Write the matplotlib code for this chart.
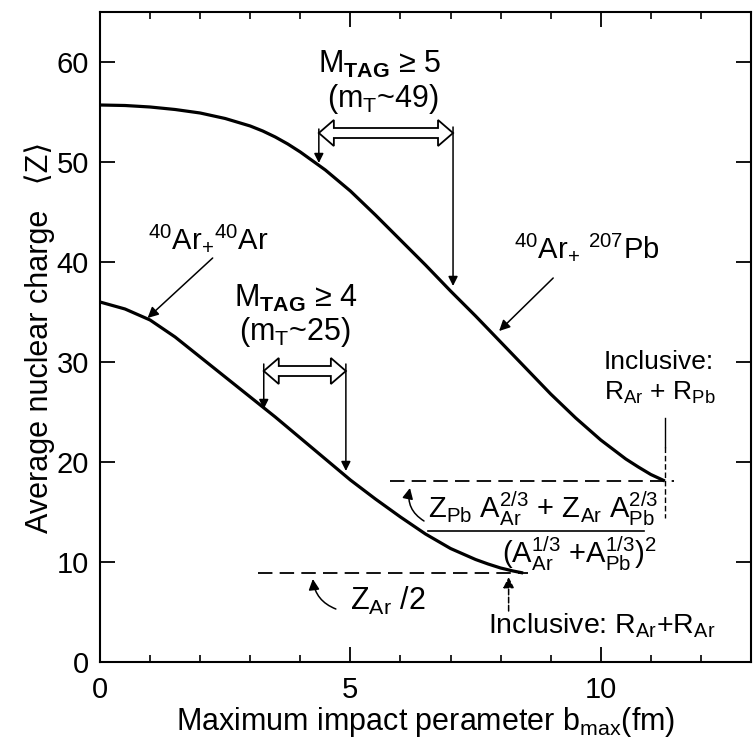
import matplotlib
matplotlib.use("Agg")
import matplotlib.pyplot as plt
from matplotlib.patches import Polygon

plt.rcParams['font.family'] = ['Liberation Sans', 'DejaVu Sans']
plt.rcParams['mathtext.fontset'] = 'custom'
plt.rcParams['mathtext.rm'] = 'Liberation Sans'
plt.rcParams['mathtext.it'] = 'Liberation Sans'
plt.rcParams['mathtext.bf'] = 'Liberation Sans:bold'

# curves: b_max (fm) vs <Z>
b_pb = [0, 0.5, 1, 1.5, 2, 2.5, 3, 3.25, 3.5, 3.75, 4, 4.5, 5, 5.5, 6, 6.5, 7, 7.5, 8, 8.5, 9, 9.5,
        10, 10.5, 10.75, 11, 11.28]
z_pb = [55.7, 55.65, 55.5, 55.25, 54.9, 54.35, 53.6, 53.1, 52.5, 51.8, 51.0, 49.2, 47.1, 44.7, 42.2,
        39.7, 37.1, 34.6, 32.0, 29.4, 26.8, 24.4, 22.2, 20.3, 19.5, 18.75, 18.1]
b_ar = [0, 0.5, 1, 1.5, 2, 2.5, 3, 3.5, 4, 4.5, 5, 5.5, 6, 6.5, 7, 7.5, 7.75, 8, 8.25, 8.45]
z_ar = [36.0, 35.3, 34.2, 32.5, 30.5, 28.5, 26.5, 24.5, 22.4, 20.3, 18.2, 16.3, 14.5, 12.8, 11.35,
        10.25, 9.8, 9.4, 9.1, 8.9]

z_inc_pb = 18.1   # inclusive limit Ar+Pb
b_inc_pb = 11.28
z_inc_ar = 8.9    # Z_Ar/2
b_inc_ar = 8.16

x_ticks = [0, 5, 10]
y_ticks = [0, 10, 20, 30, 40, 50, 60]


def hollow_darrow(ax, x0, x1, y, body=0.5, head=1.3, hl=0.3):
    xs = [x0, x0 + hl, x0 + hl, x1 - hl, x1 - hl, x1, x1 - hl, x1 - hl, x0 + hl, x0 + hl]
    ys = [y, y + head, y + body, y + body, y + head, y, y - head, y - body, y - body, y - head]
    ax.add_patch(Polygon(list(zip(xs, ys)), closed=True, fc='white', ec='black', lw=1.3, zorder=4))


def down_arrow(ax, x, y0, y1):
    ax.annotate('', xy=(x, y1), xytext=(x, y0),
                arrowprops=dict(arrowstyle='-|>', color='black', lw=1.1, mutation_scale=14,
                                shrinkA=0, shrinkB=0))


def pointer(ax, xy, xytext, rad=0.0, ls='-'):
    ax.annotate('', xy=xy, xytext=xytext,
                arrowprops=dict(arrowstyle='-|>', color='black', lw=1.1, mutation_scale=16,
                                shrinkA=0, shrinkB=0, linestyle=ls,
                                connectionstyle=f'arc3,rad={rad}'))


fig = plt.figure(figsize=(7.54, 7.41), dpi=100)
ax = fig.add_axes([100 / 754, 79 / 741, 651 / 754, 650 / 741])

ax.plot(b_pb, z_pb, color='black', lw=2.3, solid_capstyle='butt', solid_joinstyle='round')
ax.plot(b_ar, z_ar, color='black', lw=2.3, solid_capstyle='butt', solid_joinstyle='round')

# dashed limits
ax.plot([5.8, 11.46], [z_inc_pb, z_inc_pb], color='black', lw=1.3, dashes=(8, 4))
ax.plot([3.15, 8.54], [z_inc_ar, z_inc_ar], color='black', lw=1.3, dashes=(8, 4))
ax.plot([b_inc_pb, b_inc_pb], [24.4, 21.5], color='black', lw=1.0)
ax.plot([b_inc_pb, b_inc_pb], [21.5, 14.4], color='black', lw=1.0, dashes=(4, 2))

ax.set_xlim(0, 13)
ax.set_ylim(0, 65)
ax.set_xticks(x_ticks)
ax.set_xticks(range(0, 14), minor=True)
ax.set_yticks(y_ticks)
ax.tick_params(which='major', direction='in', length=11, width=1.3, top=True, right=True,
               labelsize=21)
ax.tick_params(which='minor', direction='in', length=5, width=1.2, top=True)
ax.tick_params(axis='x', pad=10)
ax.tick_params(axis='y', pad=8)
for s in ax.spines.values():
    s.set_linewidth(1.5)

ax.set_xlabel(r"Maximum impact perameter b$_{\rm max}$(fm)", fontsize=22, labelpad=1)
ax.set_ylabel("Average nuclear charge   \u27e8Z\u27e9", fontsize=22, labelpad=1)

# M_TAG >= 5 block (Ar + Pb)
ax.text(5.59, 59.8, r"M$_{\bf TAG}$ ≥ 5", fontsize=22, ha='center', va='center')
ax.text(5.65, 56.3, r"(m$_{\rm T}$~49)", fontsize=22, ha='center', va='center')
hollow_darrow(ax, 4.37, 7.05, 52.9)
down_arrow(ax, 4.37, 53.3, 49.9)
down_arrow(ax, 7.05, 53.5, 37.6)

# M_TAG >= 4 block (Ar + Ar)
ax.text(3.91, 36.4, r"M$_{\bf TAG}$ ≥ 4", fontsize=22, ha='center', va='center')
ax.text(3.9, 33.0, r"(m$_{\rm T}$~25)", fontsize=22, ha='center', va='center')
hollow_darrow(ax, 3.27, 4.91, 29.1)
down_arrow(ax, 3.27, 29.8, 25.3)
down_arrow(ax, 4.91, 29.8, 19.1)

# system labels
ax.text(2.16, 42.4, r"$^{40}$Ar$_{+}$$^{40}$Ar", fontsize=21, ha='center', va='center')
pointer(ax, (0.95, 34.4), (2.25, 40.4))
ax.text(9.72, 41.5, r"$^{40}$Ar$_{+}$ $^{207}$Pb", fontsize=21, ha='center', va='center')
pointer(ax, (7.97, 33.1), (9.05, 38.4))

# inclusive Ar + Pb
ax.text(10.06, 30.0, "Inclusive:", fontsize=19, ha='left', va='center')
ax.text(10.06, 26.9, r"R$_{\rm Ar}$ + R$_{\rm Pb}$", fontsize=19, ha='left', va='center')

# formula
ax.text(6.55, 15.3, r"Z$_{\rm Pb}$ A$_{\rm Ar}^{2/3}$ + Z$_{\rm Ar}$ A$_{\rm Pb}^{2/3}$",
        fontsize=21, ha='left', va='center')
ax.plot([6.55, 10.86], [13.1, 13.1], color='black', lw=1.2)
ax.text(8.02, 10.8, r"(A$_{\rm Ar}^{1/3}$ +A$_{\rm Pb}^{1/3}$)$^2$",
        fontsize=21, ha='left', va='center')
pointer(ax, (6.19, 17.4), (6.47, 14.1), rad=-0.35)

# Z_Ar / 2
ax.text(5.0, 6.1, r"Z$_{\rm Ar}$ /2", fontsize=22, ha='left', va='center')
pointer(ax, (4.25, 8.3), (4.71, 5.3), rad=-0.3)

# inclusive Ar + Ar
ax.text(7.74, 3.6, r"Inclusive: R$_{\rm Ar}$+R$_{\rm Ar}$", fontsize=20.5, ha='left', va='center')
pointer(ax, (b_inc_ar, z_inc_ar - 0.4), (b_inc_ar, 5.1), ls='--')

fig.savefig("out.png", dpi=100)
